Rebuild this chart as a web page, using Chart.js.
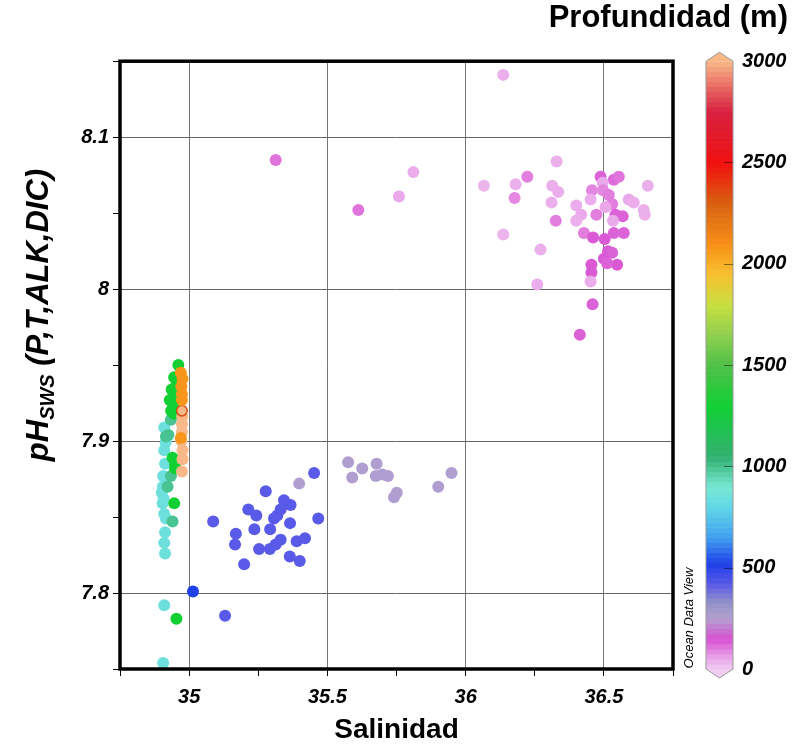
<!DOCTYPE html>
<html>
<head>
<meta charset="utf-8">
<script src="https://cdn.jsdelivr.net/npm/chart.js@4.4.0/dist/chart.umd.min.js"></script>
<style>
  html, body { margin: 0; padding: 0; background: #fff; }
</style>
</head>
<body>
<canvas id="c" width="794" height="749"></canvas>
<script>
// valores (Salinidad, pH SWS, profundidad en m)
const salinidad = [
  36.136, 36.329, 36.066, 36.181, 36.223, 36.177, 36.313, 36.335, 36.311, 36.326,
  36.136, 36.271, 36.259, 36.459, 36.413, 36.488, 36.536, 36.554, 36.496, 36.457,
  36.452, 36.497, 36.518, 36.530, 36.506, 36.542, 36.568, 36.590, 36.608, 36.659,
  36.644, 36.648, 36.400, 36.418, 36.400, 36.473, 36.533, 36.428, 36.461, 36.503,
  36.536, 36.572, 36.515, 36.530, 36.500, 36.548, 36.455, 36.455, 36.452, 36.512,
  35.313, 35.612, 35.759, 35.811,
  35.575, 35.626, 35.678, 35.590, 35.675, 35.699, 35.719, 35.751, 35.741, 35.901, 35.949, 35.398,
  35.452, 35.277, 35.214, 35.243, 35.343, 35.367, 35.331, 35.319, 35.307, 35.087,
  35.467, 35.365, 35.236, 35.293, 35.169, 35.166, 35.253, 35.292, 35.313, 35.331,
  35.389, 35.419, 35.364, 35.400, 35.199, 35.130, 35.014,
  34.910, 34.910, 34.913, 34.906, 34.901, 34.904, 34.910, 34.916, 34.913, 34.910,
  34.913, 34.910, 34.906, 34.915, 34.905, 34.908,
  34.934, 34.925, 34.934, 34.922, 34.940, 34.916,
  34.961, 34.946, 34.937, 34.952, 34.930, 34.942, 34.961, 34.949, 34.940, 34.949,
  34.946, 34.954, 34.935, 34.945,
  34.974, 34.974, 34.976, 34.976, 34.974, 34.972, 34.975, 34.974, 34.974,
  34.970, 34.976, 34.974, 34.974, 34.970, 34.972
];
const phSWS = [
  8.141, 8.084, 8.068, 8.069, 8.074, 8.060, 8.068, 8.064, 8.057, 8.045,
  8.036, 8.026, 8.003, 7.990, 7.970, 8.074, 8.072, 8.074, 8.070, 8.065,
  8.059, 8.065, 8.062, 8.056, 8.054, 8.049, 8.048, 8.059, 8.057, 8.068,
  8.052, 8.049, 8.055, 8.049, 8.045, 8.049, 8.045, 8.037, 8.034, 8.033,
  8.037, 8.037, 8.025, 8.024, 8.020, 8.016, 8.016, 8.011, 8.005, 8.017,
  8.085, 8.052, 8.061, 8.077,
  7.886, 7.882, 7.885, 7.876, 7.877, 7.878, 7.877, 7.866, 7.863, 7.870, 7.879, 7.872,
  7.879, 7.867, 7.855, 7.851, 7.861, 7.858, 7.855, 7.851, 7.849, 7.847,
  7.849, 7.846, 7.842, 7.842, 7.839, 7.832, 7.829, 7.829, 7.832, 7.835,
  7.834, 7.836, 7.824, 7.821, 7.819, 7.785, 7.801,
  7.909, 7.894, 7.885, 7.877, 7.866, 7.859, 7.852, 7.849, 7.840, 7.833,
  7.826, 7.792, 7.754, 7.899, 7.870, 7.862,
  7.914, 7.904, 7.877, 7.870, 7.847, 7.903,
  7.950, 7.942, 7.934, 7.936, 7.927, 7.924, 7.931, 7.885, 7.889, 7.882,
  7.859, 7.783, 7.920, 7.918,
  7.911, 7.906, 7.894, 7.888, 7.880, 7.900, 7.916, 7.920, 7.920,
  7.945, 7.941, 7.931, 7.927, 7.902, 7.936
];
const profundidad = [
  40, 40, 35, 40, 100, 90, 40, 45, 40, 100,
  35, 40, 45, 130, 130, 130, 120, 110, 50, 90,
  45, 90, 100, 100, 55, 130, 130, 50, 45, 40,
  40, 40, 45, 50, 40, 100, 50, 100, 140, 140,
  130, 130, 140, 130, 140, 140, 140, 140, 45, 130,
  110, 110, 50, 45,
  260, 260, 260, 260, 260, 260, 260, 260, 260, 260, 260, 260,
  420, 420, 420, 420, 420, 420, 420, 420, 420, 420,
  420, 420, 420, 420, 420, 420, 420, 420, 420, 420,
  420, 420, 420, 420, 420, 420, 520,
  850, 850, 850, 850, 850, 850, 850, 850, 850, 850,
  850, 850, 850, 850, 850, 850,
  1000, 1000, 1000, 1000, 1000, 1000,
  1300, 1300, 1300, 1300, 1300, 1300, 1300, 1300, 1300, 1300,
  1300, 1300, 1300, 1300,
  3000, 3000, 3000, 3000, 3000, 3000, 3000, 2350, 3000,
  2080, 2080, 2080, 2080, 2080, 2080
];
const xTicksMayores = [35, 35.5, 36, 36.5];
const yTicksMayores = [7.8, 7.9, 8, 8.1];
const escalaProf = [0, 500, 1000, 1500, 2000, 2500, 3000];

// paleta tipo ODV
const stopsProf = [0, 60, 150, 250, 330, 420, 520, 650, 800, 900, 1050, 1300, 1500, 1650, 1800, 1950, 2100, 2300, 2500, 2750, 3000];
const stopsColor = ['#f2cdf2', '#e8a2e8', '#d850d2', '#b4a0d2', '#9090c8', '#5a5ae8', '#2040e8', '#40a0f0',
  '#62d8e8', '#78e8d2', '#30b070', '#12d034', '#50c048', '#90d050', '#c8e040', '#f8c030', '#f89018',
  '#d86010', '#f01010', '#d82040', '#f8b888'];

function hex2rgb(h) {
  return [parseInt(h.slice(1, 3), 16), parseInt(h.slice(3, 5), 16), parseInt(h.slice(5, 7), 16)];
}
function colorProf(d) {
  if (d <= stopsProf[0]) return stopsColor[0];
  for (let i = 1; i < stopsProf.length; i++) {
    if (d <= stopsProf[i]) {
      const t = (d - stopsProf[i - 1]) / (stopsProf[i] - stopsProf[i - 1]);
      const a = hex2rgb(stopsColor[i - 1]), b = hex2rgb(stopsColor[i]);
      return 'rgb(' + a.map((v, k) => Math.round(v + (b[k] - v) * t)).join(',') + ')';
    }
  }
  return stopsColor[stopsColor.length - 1];
}

const fuente = "'Liberation Sans', Arial, sans-serif";
const esMayor = (v, lista) => lista.some(m => Math.abs(m - v) < 1e-6);

const puntos = salinidad.map((s, i) => ({ x: s, y: phSWS[i] }));
const colores = profundidad.map(colorProf);
const radios = profundidad.map((d, i) => (i === salinidad.length - 7 ? 4.5 : 6));

const marcoYTextos = {
  id: 'marcoYTextos',
  beforeDatasetsDraw(chart) {
    // barra de colores
    const { ctx } = chart;
    const s = chart.scales.prof;
    const x0 = 706, x1 = 733;
    ctx.save();
    for (let d = 0; d < 3000; d += 25) {
      const yA = s.getPixelForValue(d), yB = s.getPixelForValue(d + 25);
      ctx.fillStyle = colorProf(d + 12.5);
      ctx.fillRect(x0, yB, x1 - x0, yA - yB + 0.6);
    }
    const yTop = s.getPixelForValue(3000), yBot = s.getPixelForValue(0);
    ctx.fillStyle = colorProf(3000);
    ctx.beginPath();
    ctx.moveTo(x0, yTop); ctx.lineTo((x0 + x1) / 2, yTop - 9); ctx.lineTo(x1, yTop); ctx.closePath();
    ctx.fill();
    ctx.fillStyle = colorProf(0);
    ctx.beginPath();
    ctx.moveTo(x0, yBot); ctx.lineTo((x0 + x1) / 2, yBot + 9); ctx.lineTo(x1, yBot); ctx.closePath();
    ctx.fill();
    ctx.strokeStyle = '#999';
    ctx.lineWidth = 1;
    ctx.beginPath();
    ctx.moveTo(x0, yBot); ctx.lineTo(x0, yTop); ctx.lineTo((x0 + x1) / 2, yTop - 9); ctx.lineTo(x1, yTop);
    ctx.lineTo(x1, yBot); ctx.lineTo((x0 + x1) / 2, yBot + 9); ctx.closePath();
    ctx.stroke();
    ctx.strokeStyle = 'rgba(0,0,0,0.45)';
    escalaProf.slice(1, -1).forEach(d => {
      const y = Math.round(s.getPixelForValue(d)) + 0.5;
      ctx.beginPath(); ctx.moveTo(724, y); ctx.lineTo(x1, y); ctx.stroke();
    });
    // Ocean Data View
    ctx.translate(689, 618);
    ctx.rotate(-Math.PI / 2);
    ctx.fillStyle = '#000';
    ctx.font = 'italic 13px ' + fuente;
    ctx.textAlign = 'center';
    ctx.textBaseline = 'middle';
    ctx.fillText('Ocean Data View', 0, 0);
    ctx.restore();
  },
  afterDraw(chart) {
    const { ctx, chartArea: a } = chart;
    ctx.save();
    ctx.strokeStyle = '#000';
    ctx.lineWidth = 3.5;
    ctx.strokeRect(a.left, a.top, a.right - a.left, a.bottom - a.top);
    // titulo eje Y con subindice
    ctx.translate(38, 315);
    ctx.rotate(-Math.PI / 2);
    ctx.fillStyle = '#000';
    ctx.textBaseline = 'alphabetic';
    const fG = 'italic bold 31px ' + fuente, fP = 'italic bold 20px ' + fuente;
    const partes = [['pH', fG, 0], ['SWS', fP, 6], [' (P,T,ALK,DIC)', fG, 0]];
    let total = 0;
    partes.forEach(p => { ctx.font = p[1]; total += ctx.measureText(p[0]).width; });
    let x = -total / 2;
    partes.forEach(p => {
      ctx.font = p[1];
      ctx.fillText(p[0], x, 10 + p[2]);
      x += ctx.measureText(p[0]).width;
    });
    ctx.restore();
  }
};

new Chart(document.getElementById('c'), {
  type: 'scatter',
  data: {
    datasets: [{
      data: puntos,
      backgroundColor: colores,
      borderWidth: 0,
      pointRadius: radios,
      pointHoverRadius: radios
    }]
  },
  options: {
    responsive: false,
    animation: false,
    events: [],
    layout: { padding: { top: 0, right: 6, left: 0, bottom: 0 } },
    plugins: {
      legend: { display: false },
      tooltip: { enabled: false },
      title: {
        display: true,
        text: 'Profundidad (m)',
        align: 'end',
        color: '#000',
        font: { family: fuente, size: 31, weight: 'bold' },
        padding: { top: 0, bottom: 24 }
      }
    },
    scales: {
      x: {
        type: 'linear',
        min: 34.75,
        max: 36.75,
        afterFit: s => { s.height = 80; },
        border: { display: false },
        grid: {
          color: c => esMayor(c.tick.value, xTicksMayores) ? '#777' : 'rgba(0,0,0,0)',
          tickColor: '#000',
          tickLength: 7
        },
        ticks: {
          stepSize: 0.25,
          padding: 9,
          maxRotation: 0,
          autoSkip: false,
          color: '#000',
          font: { family: fuente, size: 20, weight: 'bold', style: 'italic' },
          callback: v => esMayor(v, xTicksMayores) ? String(Math.round(v * 10) / 10) : ''
        },
        title: {
          display: true,
          text: 'Salinidad',
          color: '#000',
          font: { family: fuente, size: 28, weight: 'bold' },
          padding: { top: 0, bottom: 2 }
        }
      },
      y: {
        type: 'linear',
        min: 7.75,
        max: 8.15,
        afterFit: s => { s.width = 120; },
        border: { display: false },
        grid: {
          color: c => esMayor(c.tick.value, yTicksMayores) ? '#666' : 'rgba(0,0,0,0)',
          tickColor: '#000',
          tickLength: 7
        },
        ticks: {
          stepSize: 0.05,
          padding: 4,
          autoSkip: false,
          color: '#000',
          font: { family: fuente, size: 20, weight: 'bold', style: 'italic' },
          callback: v => esMayor(v, yTicksMayores) ? String(Math.round(v * 10) / 10) : ''
        }
      },
      prof: {
        type: 'linear',
        position: 'right',
        display: true,
        min: 0,
        max: 3000,
        afterFit: s => { s.width = 115; },
        border: { display: false },
        grid: { display: false, drawTicks: true, tickLength: 66 },
        ticks: {
          stepSize: 500,
          padding: 3,
          color: '#000',
          font: { family: fuente, size: 20, weight: 'bold', style: 'italic' },
          callback: v => String(v)
        }
      }
    }
  },
  plugins: [marcoYTextos]
});
</script>
</body>
</html>
